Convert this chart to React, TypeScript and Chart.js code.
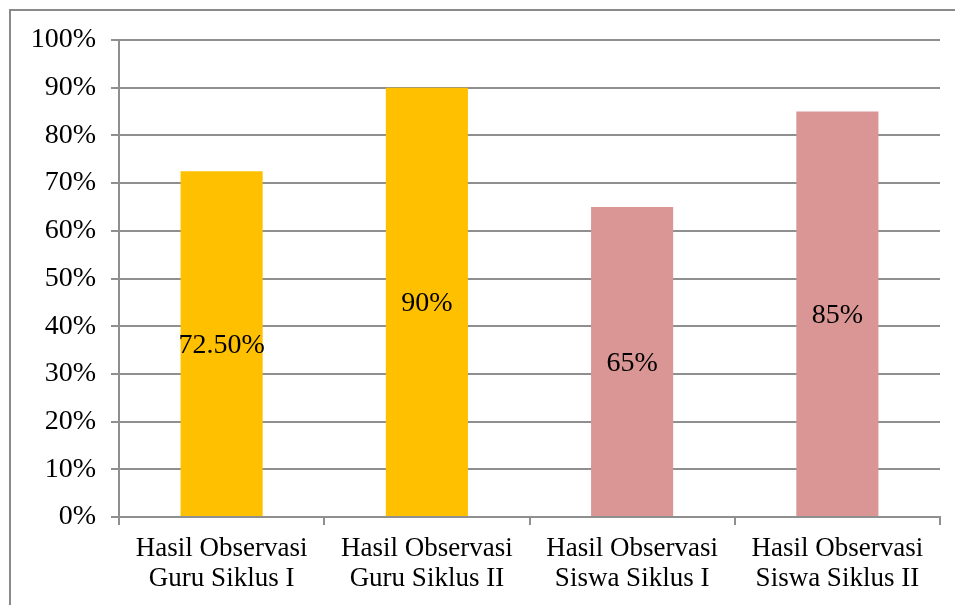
import React, { useEffect, useRef } from "react";
import { Chart, registerables } from "chart.js";

Chart.register(...registerables);

const categories: string[][] = [
  ["Hasil Observasi", "Guru Siklus I"],
  ["Hasil Observasi", "Guru Siklus II"],
  ["Hasil Observasi", "Siswa Siklus I"],
  ["Hasil Observasi", "Siswa Siklus II"],
];
const values: number[] = [72.5, 90, 65, 85];
const valueLabels: string[] = ["72.50%", "90%", "65%", "85%"];
const barColors: string[] = ["#FFC000", "#FFC000", "#D99694", "#D99694"];

const FONT = "'Liberation Serif', 'Times New Roman', serif";

const frame = {
  id: "frame",
  beforeDraw(chart: any) {
    const ctx = chart.ctx;
    ctx.save();
    ctx.fillStyle = "#fff";
    ctx.fillRect(0, 0, chart.width, chart.height);
    ctx.strokeStyle = "#8a8a8a";
    ctx.lineWidth = 2;
    ctx.beginPath();
    ctx.moveTo(10, chart.height + 5);
    ctx.lineTo(10, 10);
    ctx.lineTo(chart.width + 5, 10);
    ctx.stroke();
    ctx.restore();
  },
};

const centerLabels = {
  id: "centerLabels",
  afterDatasetsDraw(chart: any) {
    const ctx = chart.ctx;
    const meta = chart.getDatasetMeta(0);
    ctx.save();
    ctx.font = `28px ${FONT}`;
    ctx.fillStyle = "#000";
    ctx.textAlign = "center";
    ctx.textBaseline = "middle";
    meta.data.forEach((bar: any, i: number) => {
      const y = (bar.y + bar.base) / 2 + 2;
      ctx.fillText(valueLabels[i], bar.x, y);
    });
    ctx.restore();
  },
};

export default function App() {
  const ref = useRef<HTMLCanvasElement>(null);
  useEffect(() => {
    if (!ref.current) return;
    const chart = new Chart(ref.current, {
      type: "bar",
      data: {
        labels: categories,
        datasets: [
          {
            data: values,
            backgroundColor: barColors,
            barPercentage: 0.4,
            categoryPercentage: 1,
          },
        ],
      },
      options: {
        animation: false,
        responsive: false,
        layout: { padding: { top: 40, right: 15, left: 0, bottom: 0 } },
        plugins: { legend: { display: false }, tooltip: { enabled: false } },
        scales: {
          y: {
            min: 0,
            max: 100,
            afterFit: (s: any) => {
              s.width = 119;
            },
            ticks: {
              stepSize: 10,
              padding: 15,
              color: "#000",
              font: { family: FONT, size: 28 },
              callback: (v: any) => `${v}%`,
            },
            grid: { color: "#8f8f8f", lineWidth: 2, tickLength: 8 },
            border: { color: "#8f8f8f", width: 2 },
          },
          x: {
            afterFit: (s: any) => {
              s.height = 88;
            },
            ticks: {
              color: "#000",
              padding: 9,
              font: { family: FONT, size: 27, lineHeight: 1.12 },
              maxRotation: 0,
            },
            grid: {
              drawOnChartArea: false,
              offset: true,
              color: "#8f8f8f",
              lineWidth: 2,
              tickLength: 8,
            },
            border: { color: "#8f8f8f", width: 2 },
          },
        },
      },
      plugins: [frame, centerLabels],
    });
    return () => chart.destroy();
  }, []);

  return (
    <div
      style={{
        position: "fixed",
        left: 0,
        top: 0,
        width: 955,
        height: 605,
        overflow: "hidden",
        background: "#fff",
      }}
    >
      <canvas
        ref={ref}
        width={955}
        height={605}
        style={{ position: "absolute", left: 0, top: 0 }}
      />
    </div>
  );
}
